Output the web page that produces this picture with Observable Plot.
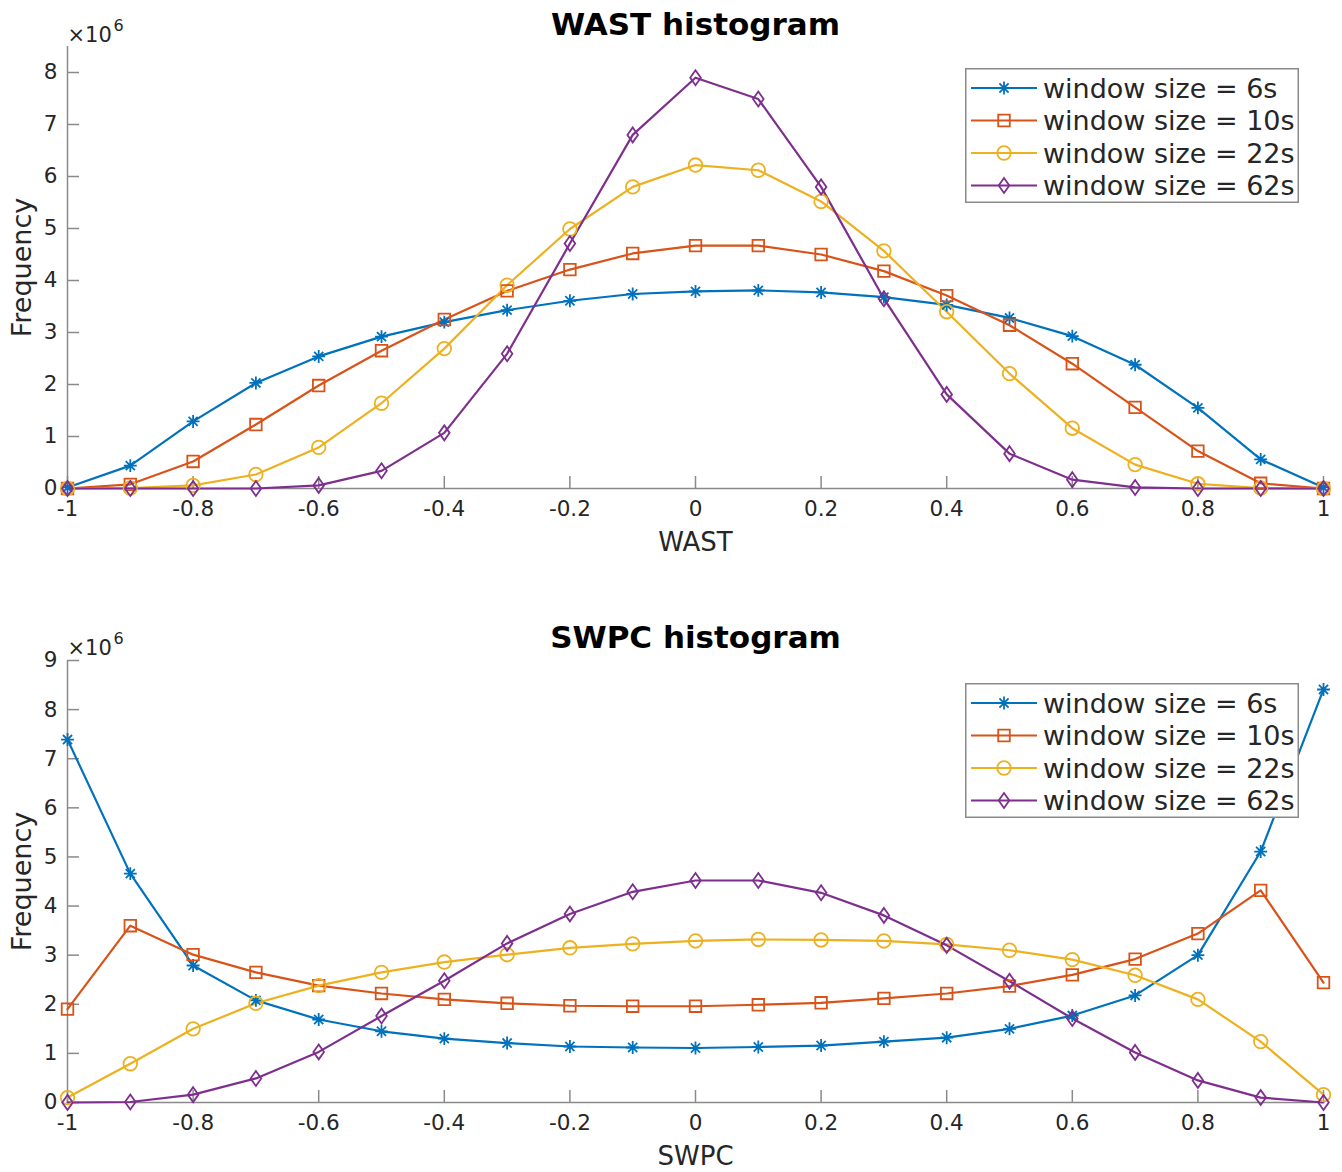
<!DOCTYPE html>
<html>
<head>
<meta charset="utf-8">
<script src="https://cdn.jsdelivr.net/npm/d3@7"></script>
<script src="https://cdn.jsdelivr.net/npm/@observablehq/plot@0.6"></script>
<style>
  body { margin: 0; background: #fff; font-family: "DejaVu Sans", sans-serif; }
  #fig { position: relative; width: 1342px; height: 1172px; background: #fff; }
  .panel { position: absolute; left: 0; }
  .legend { position: absolute; }
</style>
</head>
<body>
<div id="fig"></div>
<script>
// Histogram bin centres (shared by both panels)
const bins = [-1, -0.9, -0.8, -0.7, -0.6, -0.5, -0.4, -0.3, -0.2, -0.1, 0, 0.1, 0.2, 0.3, 0.4, 0.5, 0.6, 0.7, 0.8, 0.9, 1];

// Series names and colours
const seriesNames = ["window size = 6s", "window size = 10s", "window size = 22s", "window size = 62s"];
const seriesColors = ["#0072BD", "#D95319", "#EDB120", "#7E2F8E"];

// WAST frequencies (×10^6)
const wast6  = [0.02, 0.44, 1.29, 2.03, 2.54, 2.92, 3.20, 3.43, 3.61, 3.74, 3.79, 3.81, 3.77, 3.68, 3.53, 3.28, 2.93, 2.38, 1.55, 0.56, 0.02];
const wast10 = [0.00, 0.08, 0.52, 1.23, 1.98, 2.65, 3.25, 3.80, 4.21, 4.52, 4.67, 4.67, 4.50, 4.18, 3.71, 3.14, 2.40, 1.56, 0.72, 0.10, 0.00];
const wast22 = [0.00, 0.01, 0.06, 0.27, 0.79, 1.64, 2.69, 3.91, 4.99, 5.80, 6.22, 6.12, 5.52, 4.57, 3.40, 2.21, 1.16, 0.46, 0.09, 0.01, 0.00];
const wast62 = [0.00, 0.00, 0.00, 0.00, 0.06, 0.34, 1.07, 2.59, 4.71, 6.80, 7.90, 7.49, 5.80, 3.65, 1.81, 0.67, 0.17, 0.02, 0.00, 0.00, 0.00];

// SWPC frequencies (×10^6)
const swpc6  = [7.39, 4.66, 2.79, 2.08, 1.69, 1.45, 1.30, 1.21, 1.14, 1.12, 1.11, 1.13, 1.16, 1.24, 1.32, 1.50, 1.77, 2.18, 3.00, 5.11, 8.41];
const swpc10 = [1.90, 3.60, 3.01, 2.65, 2.38, 2.22, 2.10, 2.02, 1.97, 1.96, 1.96, 1.99, 2.03, 2.12, 2.22, 2.37, 2.60, 2.92, 3.44, 4.32, 2.44];
const swpc22 = [0.10, 0.79, 1.50, 2.02, 2.38, 2.65, 2.86, 3.01, 3.15, 3.23, 3.29, 3.32, 3.31, 3.29, 3.22, 3.10, 2.91, 2.59, 2.10, 1.24, 0.16];
const swpc62 = [0.00, 0.01, 0.16, 0.49, 1.03, 1.76, 2.48, 3.24, 3.84, 4.29, 4.52, 4.52, 4.27, 3.81, 3.20, 2.47, 1.71, 1.02, 0.45, 0.10, 0.00];

// Tick values
const xTicks = [-1, -0.8, -0.6, -0.4, -0.2, 0, 0.2, 0.4, 0.6, 0.8, 1];
const yTicksWast = [0, 1, 2, 3, 4, 5, 6, 7, 8];
const yTicksSwpc = [0, 1, 2, 3, 4, 5, 6, 7, 8, 9];

// Open marker shapes (asterisk, square, circle, diamond)
const symAsterisk = {draw(ctx, size) {
  const r = Math.sqrt(size / Math.PI) * 0.95, d = r * Math.SQRT1_2;
  ctx.moveTo(0, -r); ctx.lineTo(0, r);
  ctx.moveTo(-r, 0); ctx.lineTo(r, 0);
  ctx.moveTo(-d, -d); ctx.lineTo(d, d);
  ctx.moveTo(-d, d); ctx.lineTo(d, -d);
}};
const symSquare = {draw(ctx, size) {
  const s = Math.sqrt(size / Math.PI) * 0.85;
  ctx.moveTo(-s, -s); ctx.lineTo(s, -s); ctx.lineTo(s, s); ctx.lineTo(-s, s); ctx.closePath();
}};
const symCircle = {draw(ctx, size) {
  const r = Math.sqrt(size / Math.PI);
  ctx.moveTo(r, 0); ctx.arc(0, 0, r, 0, 2 * Math.PI);
}};
const symDiamond = {draw(ctx, size) {
  const r = Math.sqrt(size / Math.PI), h = r * 1.1, w = r * 0.78;
  ctx.moveTo(0, -h); ctx.lineTo(w, 0); ctx.lineTo(0, h); ctx.lineTo(-w, 0); ctx.closePath();
}};
const seriesSymbols = [symAsterisk, symSquare, symCircle, symDiamond];

const W = 1342, ML = 67, MR = 19;
const axisGray = "#8a8a8a", textColor = "#262626";
const markerR = 6.8;

function panel({values, yMax, yTicks, title, xLabel, height, marginTop, marginBottom, titleDy, expDy}) {
  const rows = seriesNames.flatMap((name, i) =>
    values[i].map((v, j) => ({bin: bins[j], freq: v, series: name})));
  const innerW = W - ML - MR;
  const innerH = height - marginTop - marginBottom;
  return Plot.plot({
    width: W, height, marginLeft: ML, marginRight: MR, marginTop, marginBottom,
    style: {fontFamily: "DejaVu Sans, sans-serif", fontSize: "21px", color: textColor, background: "#fff", overflow: "visible"},
    x: {domain: [-1, 1]},
    y: {domain: [0, yMax]},
    color: {domain: seriesNames, range: seriesColors},
    symbol: {domain: seriesNames, range: seriesSymbols},
    marks: [
      // axis lines and inward ticks
      Plot.ruleX([-1], {stroke: axisGray, strokeWidth: 1.5}),
      Plot.ruleY([0], {stroke: axisGray, strokeWidth: 1.5}),
      Plot.tickY(yTicks, {y: d => d, stroke: axisGray, strokeWidth: 1.5, insetRight: innerW - 12}),
      Plot.tickX(xTicks, {x: d => d, stroke: axisGray, strokeWidth: 1.5, insetTop: innerH - 12}),
      Plot.axisY(yTicks, {tickSize: 0, tickPadding: 10, label: null, fontSize: 21.5, fill: textColor, tickFormat: d => String(d)}),
      Plot.axisX(xTicks, {tickSize: 0, tickPadding: 12, label: null, fontSize: 21.5, fill: textColor, tickFormat: d => String(d)}),
      // series
      Plot.line(rows, {x: "bin", y: "freq", z: "series", stroke: "series", strokeWidth: 2.2}),
      Plot.dot(rows, {x: "bin", y: "freq", stroke: "series", symbol: "series", fill: "none", r: markerR, strokeWidth: 1.8}),
      // exponent, titles and labels
      Plot.text(["\u00d710"], {frameAnchor: "top-left", textAnchor: "start", lineAnchor: "middle", dx: 0, dy: expDy, fontSize: 21, fill: textColor}),
      Plot.text(["6"], {frameAnchor: "top-left", textAnchor: "start", lineAnchor: "middle", dx: 46, dy: expDy - 10, fontSize: 16, fill: textColor}),
      Plot.text([title], {frameAnchor: "top", lineAnchor: "middle", dy: titleDy, fontSize: 31, fontWeight: "bold", fill: "#000"}),
      Plot.text([xLabel], {frameAnchor: "bottom", lineAnchor: "middle", dy: 54, fontSize: 26, fill: textColor}),
      Plot.text(["Frequency"], {frameAnchor: "left", textAnchor: "middle", lineAnchor: "middle", rotate: -90, dx: -45, fontSize: 27, fill: textColor})
    ]
  });
}

function legend(topPx) {
  const w = 334, h = 135;
  const div = d3.create("div").attr("class", "legend")
    .style("left", "965px").style("top", topPx + "px");
  const svg = div.append("svg").attr("width", w).attr("height", h)
    .style("display", "block").style("font-family", "DejaVu Sans, sans-serif");
  svg.append("rect").attr("x", 0.75).attr("y", 0.75).attr("width", w - 1.5).attr("height", h - 1.5)
    .attr("fill", "#fff").attr("stroke", axisGray).attr("stroke-width", 1.5);
  seriesNames.forEach((name, i) => {
    const cy = 20 + i * 32.5;
    svg.append("line").attr("x1", 6).attr("x2", 72).attr("y1", cy).attr("y2", cy)
      .attr("stroke", seriesColors[i]).attr("stroke-width", 2.2);
    svg.append("path").attr("transform", `translate(39,${cy})`)
      .attr("d", d3.symbol().type(seriesSymbols[i]).size(Math.PI * markerR * markerR)())
      .attr("fill", "none").attr("stroke", seriesColors[i]).attr("stroke-width", 1.8);
    svg.append("text").attr("x", 78).attr("y", cy).attr("dy", "0.36em")
      .attr("font-size", 27).attr("fill", textColor).text(name);
  });
  return div.node();
}

const fig = document.getElementById("fig");

const wastPanel = panel({
  values: [wast6, wast10, wast22, wast62], yMax: 8.5, yTicks: yTicksWast,
  title: "WAST histogram", xLabel: "WAST",
  height: 590, marginTop: 46, marginBottom: 102, titleDy: -21, expDy: -11
});
wastPanel.classList.add("panel"); wastPanel.style.top = "0px";
fig.appendChild(wastPanel);

const swpcPanel = panel({
  values: [swpc6, swpc10, swpc22, swpc62], yMax: 9, yTicks: yTicksSwpc,
  title: "SWPC histogram", xLabel: "SWPC",
  height: 582, marginTop: 70, marginBottom: 70, titleDy: -22, expDy: -12
});
swpcPanel.classList.add("panel"); swpcPanel.style.top = "590px";
fig.appendChild(swpcPanel);

fig.appendChild(legend(68));
fig.appendChild(legend(683));
</script>
</body>
</html>
